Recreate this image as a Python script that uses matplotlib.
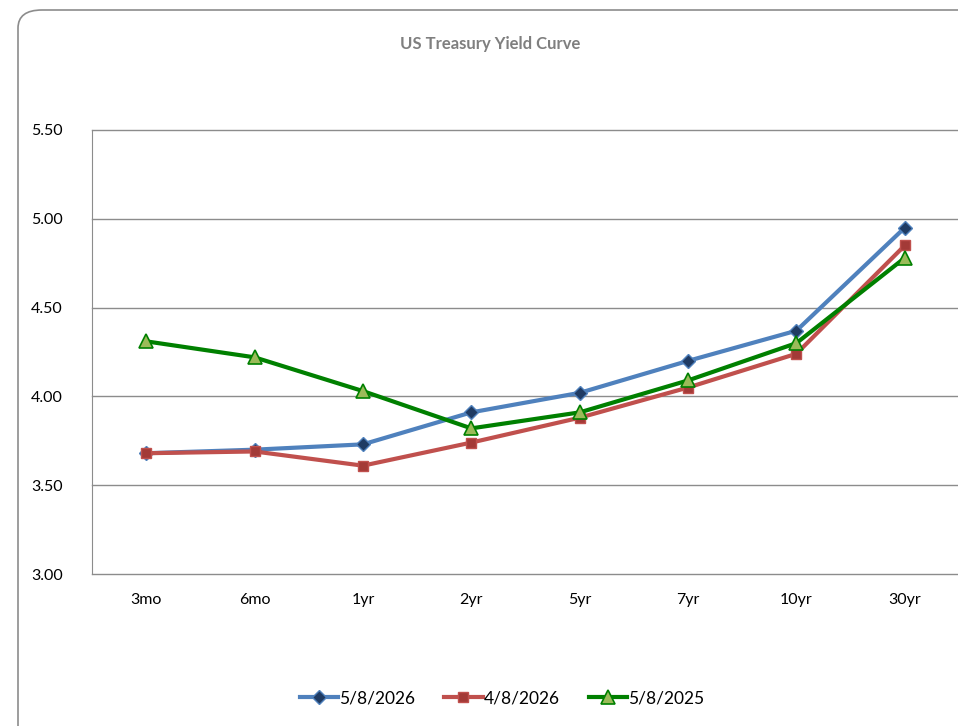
import matplotlib
matplotlib.use("Agg")
import matplotlib.pyplot as plt
from matplotlib.patches import FancyBboxPatch

# yield curve data (percent)
tenors = ['3mo', '6mo', '1yr', '2yr', '5yr', '7yr', '10yr', '30yr']
yields_may26 = [3.68, 3.70, 3.73, 3.91, 4.02, 4.20, 4.37, 4.95]
yields_apr26 = [3.68, 3.69, 3.61, 3.74, 3.88, 4.05, 4.24, 4.85]
yields_may25 = [4.31, 4.22, 4.03, 3.82, 3.91, 4.09, 4.30, 4.78]
series_labels = ['5/8/2026', '4/8/2026', '5/8/2025']
y_ticks = [3.00, 3.50, 4.00, 4.50, 5.00, 5.50]

plt.rcParams['font.family'] = ['Lato', 'DejaVu Sans']

fig = plt.figure(figsize=(9.58, 7.26), dpi=100)

# rounded chart frame, drawn behind the axes
frame = FancyBboxPatch((18 / 958, -0.05), 1.2, 1 - 10 / 726 + 0.05,
                       boxstyle="round,pad=0,rounding_size=0.025",
                       transform=fig.transFigure, facecolor='white',
                       edgecolor='#8c8c8c', linewidth=1.2, zorder=-5)
fig.patches.append(frame)

ax = fig.add_axes([92 / 958, 1 - 574 / 726, 1 - 92 / 958 + 0.001, (574 - 130) / 726])
ax.set_facecolor('none')
ax.set_zorder(2)

x = list(range(len(tenors)))
ax.plot(x, yields_may26, color='#4F81BD', linewidth=3, marker='D', markersize=7.5,
        markerfacecolor='#1F3B63', markeredgecolor='#4F81BD', markeredgewidth=1,
        label=series_labels[0], zorder=3)
ax.plot(x, yields_apr26, color='#C0504D', linewidth=3, marker='s', markersize=7.5,
        markerfacecolor='#A33A37', markeredgecolor='#C0504D', markeredgewidth=1,
        label=series_labels[1], zorder=4)
ax.plot(x, yields_may25, color='#008000', linewidth=3, marker='^', markersize=10.5,
        markerfacecolor='#9BBB59', markeredgecolor='#008000', markeredgewidth=1.2,
        label=series_labels[2], zorder=5)

ax.set_xlim(-0.5, len(tenors) - 0.5)
ax.set_ylim(3.0, 5.5)
ax.set_yticks(y_ticks)
ax.set_yticklabels([f'{v:.2f}' for v in y_ticks])
ax.set_xticks(x)
ax.set_xticklabels(tenors)
ax.tick_params(axis='both', length=0, labelsize=11.5, colors='black')
ax.tick_params(axis='y', pad=21)
ax.tick_params(axis='x', pad=14)

# horizontal gridlines, not clipped so the edge lines show in full
for v in y_ticks:
    ax.axhline(v, color='#8c8c8c', linewidth=1, clip_on=False, zorder=1)
for side in ['top', 'right', 'bottom']:
    ax.spines[side].set_visible(False)
ax.spines['left'].set_color('#8c8c8c')

fig.text(490 / 958, 1 - 44 / 726, 'US Treasury Yield Curve', ha='center', va='center',
         fontsize=12, fontweight='bold', color='#7f7f7f')

fig.legend(loc='center', bbox_to_anchor=(0.524, 1 - 698 / 726), ncol=3, frameon=False,
           fontsize=12.5, handlelength=2.2, handletextpad=0.05, columnspacing=1.7)

fig.savefig('out.png', dpi=100)
